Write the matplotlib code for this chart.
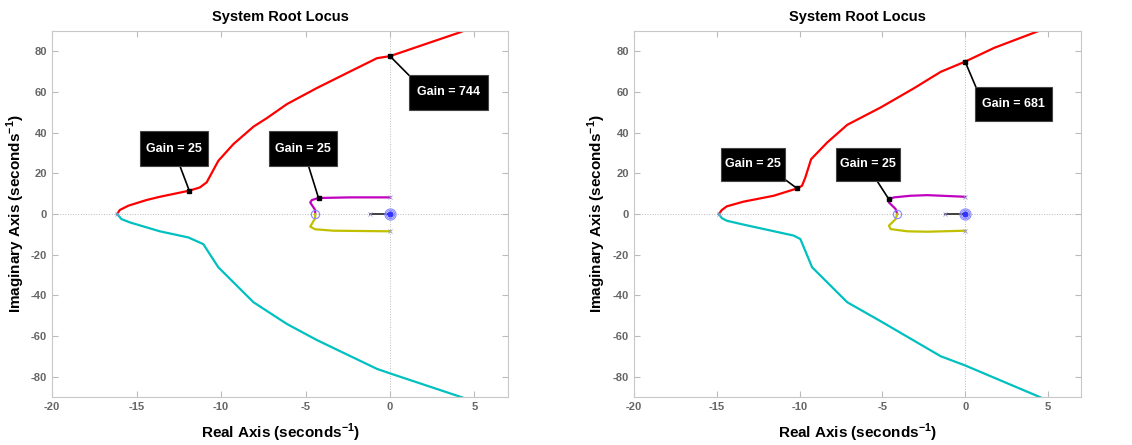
import matplotlib
matplotlib.use("Agg")
import matplotlib.pyplot as plt
from matplotlib.patches import Rectangle

plt.rcParams["font.family"] = ["Liberation Sans", "DejaVu Sans"]
plt.rcParams["axes.unicode_minus"] = False

# left chart: root locus branches
l_red_x = [-16.15, -15.99, -15.49, -14.41, -13.62, -11.88, -11.25, -10.85, -10.16, -9.27, -8.08, -7.29, -6.10, -4.33, -2.35, -0.77, 0.0, 4.17, 4.45]
l_red_y = [0.0, 2.0, 4.1, 6.9, 8.5, 11.5, 13.1, 15.6, 26.2, 34.4, 43.0, 47.2, 54.1, 62.0, 70.2, 76.7, 77.7, 89.5, 90.5]
l_cyan_x = [-16.15, -15.89, -15.40, -13.62, -11.94, -11.05, -10.16, -8.08, -6.10, -4.33, -0.77, 0.0, 4.37]
l_cyan_y = [0.0, -2.5, -4.1, -8.5, -11.5, -14.8, -26.2, -43.4, -54.1, -62.0, -76.2, -78.4, -90.5]
l_mag_x = [0.0, -2.35, -4.23, -4.62, -4.72, -4.43, -4.43]
l_mag_y = [8.2, 8.2, 7.9, 6.9, 5.7, 2.0, 0.0]
l_yel_x = [-4.43, -4.43, -4.72, -4.43, -3.34, 0.0]
l_yel_y = [0.0, -2.0, -6.2, -7.5, -8.2, -8.5]
l_blk_x = [-1.17, 0.0]
l_zeros = [-4.43, 0.0]
l_gain_pts = [(-11.88, 11.5), (-4.23, 7.9), (0.0, 77.7)]
l_gain_txt = ["Gain = 25", "Gain = 25", "Gain = 744"]

# right chart
r_red_x = [-14.87, -14.69, -14.39, -13.38, -11.56, -10.15, -9.85, -9.65, -9.30, -8.33, -7.12, -5.11, -3.09, -1.47, 0.0, 1.76, 4.38, 4.6]
r_red_y = [0.0, 2.0, 3.8, 6.1, 9.0, 12.6, 13.9, 18.0, 27.0, 35.2, 43.9, 52.4, 61.9, 70.0, 75.0, 81.8, 89.9, 90.5]
r_cyan_x = [-14.87, -14.69, -14.39, -13.38, -10.35, -9.95, -9.24, -7.12, -5.11, -1.47, 0.0, 4.58]
r_cyan_y = [0.0, -2.0, -3.3, -5.2, -10.6, -12.3, -26.2, -43.4, -52.7, -70.0, -74.5, -90.3]
r_mag_x = [0.0, -2.28, -3.29, -4.30, -4.60, -4.60, -4.20, -4.10]
r_mag_y = [8.5, 9.3, 9.0, 8.2, 7.2, 5.7, 2.5, 0.0]
r_yel_x = [-4.10, -4.20, -4.60, -4.50, -3.49, -2.28, 0.0]
r_yel_y = [0.0, -2.5, -5.7, -7.4, -8.5, -8.7, -8.2]
r_blk_x = [-1.23, 0.0]
r_zeros = [-4.10, 0.0]
r_gain_pts = [(-10.15, 12.6), (-4.60, 7.2), (0.0, 75.0)]
r_gain_txt = ["Gain = 25", "Gain = 25", "Gain = 681"]

xticks = [-20, -15, -10, -5, 0, 5]
yticks = [-80, -60, -40, -20, 0, 20, 40, 60, 80]


def draw_locus(ax, red, cyan, mag, yel, blk, zeros, gpts, gtxt, boxes, ylab_x):
    ax.axhline(0, color="#bbbbbb", lw=0.7, ls=":", zorder=0)
    ax.axvline(0, color="#bbbbbb", lw=0.7, ls=":", zorder=0)
    ax.plot(red[0], red[1], color="#ff0000", lw=1.6)
    ax.plot(cyan[0], cyan[1], color="#00c0c0", lw=1.6)
    ax.plot(mag[0], mag[1], color="#c000c0", lw=1.6)
    ax.plot(yel[0], yel[1], color="#c0c000", lw=1.6)
    ax.plot(blk, [0] * len(blk), color="#404040", lw=1.4)
    # poles / zeros
    ax.plot([mag[0][0], yel[0][-1], red[0][0], blk[0]], [mag[1][0], yel[1][-1], 0, 0],
            ls="none", marker="x", ms=3, mew=0.6, color="#9999cc")
    ax.plot(zeros, [0] * len(zeros), ls="none", marker="o", ms=6, mfc="none",
            mec="#8888ff", mew=0.8)
    ax.plot([zeros[-1]], [0], ls="none", marker="o", ms=8, mfc="none",
            mec="#8888ff", mew=0.8)
    ax.plot([zeros[-1]], [0], ls="none", marker="o", ms=3.5, color="#3333ff")
    # gain data tips
    for p, t, (x0, x1, y0, y1, ax_, ay_) in zip(gpts, gtxt, boxes):
        ax.plot([p[0], ax_], [p[1], ay_], color="black", lw=1.2, zorder=4)
        ax.add_patch(Rectangle((x0, y0), x1 - x0, y1 - y0, fc="black",
                               ec="#444444", lw=0.8, zorder=5))
        ax.text((x0 + x1) / 2, (y0 + y1) / 2, t, ha="center", va="center",
                color="white", fontsize=9, fontweight="bold", zorder=6)
    ax.plot([p[0] for p in gpts], [p[1] for p in gpts], ls="none", marker="s",
            ms=3.5, color="black", zorder=6)
    ax.set_xlim(-20, 7)
    ax.set_ylim(-90, 90)
    ax.set_xticks(xticks)
    ax.set_yticks(yticks)
    ax.tick_params(direction="in", top=True, right=True, color="#bbbbbb",
                   labelcolor="#666666", labelsize=8, length=4)
    for lab in ax.get_xticklabels() + ax.get_yticklabels():
        lab.set_fontweight("bold")
    for s in ax.spines.values():
        s.set_color("#c8c8c8")
    ax.set_title("System Root Locus", fontsize=10.5, fontweight="bold", pad=7)
    ax.set_xlabel(r"Real Axis (seconds$^{\mathregular{-1}}$)", fontsize=11,
                  fontweight="bold")
    ax.set_ylabel(r"Imaginary Axis (seconds$^{\mathregular{-1}}$)", fontsize=11,
                  fontweight="bold")
    ax.xaxis.set_label_coords(0.5, -0.068)
    ax.yaxis.set_label_coords(ylab_x, 0.5)


fig = plt.figure(figsize=(11.32, 4.45), dpi=100)
ax1 = fig.add_axes([0.046, 0.108, 0.403, 0.822])
ax2 = fig.add_axes([0.560, 0.108, 0.395, 0.822])

draw_locus(ax1, (l_red_x, l_red_y), (l_cyan_x, l_cyan_y), (l_mag_x, l_mag_y),
           (l_yel_x, l_yel_y), l_blk_x, l_zeros, l_gain_pts, l_gain_txt,
           [(-14.78, -10.79, 23.6, 40.7, -12.43, 23.6),
            (-7.15, -3.14, 23.6, 40.7, -4.82, 23.6),
            (1.11, 5.79, 51.3, 68.4, 1.11, 68.4)], -0.055)
draw_locus(ax2, (r_red_x, r_red_y), (r_cyan_x, r_cyan_y), (r_mag_x, r_mag_y),
           (r_yel_x, r_yel_y), r_blk_x, r_zeros, r_gain_pts, r_gain_txt,
           [(-14.73, -10.9, 16.2, 32.7, -10.96, 17.5),
            (-7.81, -3.96, 16.2, 32.7, -5.31, 16.2),
            (0.61, 5.25, 45.8, 62.5, 0.65, 62.5)], -0.058)

fig.savefig("out.png", dpi=100)
